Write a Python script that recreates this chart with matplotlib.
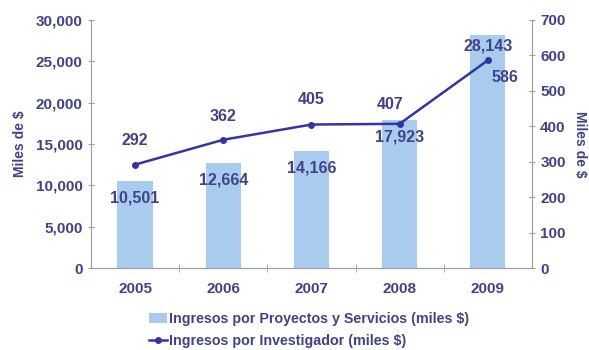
import matplotlib
matplotlib.use("Agg")
import matplotlib.pyplot as plt

years = ["2005", "2006", "2007", "2008", "2009"]
proyectos = [10501, 12664, 14166, 17923, 28143]       # miles $ (bars, left axis)
investigador = [292, 362, 405, 407, 586]              # miles $ (line, right axis)
bar_labels = ["10,501", "12,664", "14,166", "17,923", "28,143"]

TXT = "#42428c"
BAR = "#a9cbee"
LINE = "#3434a4"
GRID = "#a0a0a0"

plt.rcParams["font.family"] = ["Liberation Sans", "DejaVu Sans"]
plt.rcParams["font.weight"] = "bold"

fig = plt.figure(figsize=(5.89, 3.5), dpi=100)
ax = fig.add_axes([0.1545, 0.234, 0.7485, 0.709])
ax2 = ax.twinx()

x = list(range(len(years)))
bars = ax.bar(x, proyectos, width=0.4, color=BAR, zorder=1,
              label="Ingresos por Proyectos y Servicios (miles $)")
ln, = ax2.plot(x, investigador, "-o", color=LINE, lw=1.8, ms=4,
               label="Ingresos por Investigador (miles $)")

ax.set_xlim(-0.5, 4.5)
ax.set_ylim(0, 30000)
ax2.set_ylim(0, 700)
ax.set_yticks(range(0, 30001, 5000))
ax.set_yticklabels([f"{v:,}" for v in range(0, 30001, 5000)])
ax2.set_yticks(range(0, 701, 100))
ax.set_xticks(x)
ax.set_xticklabels(years)
ax.set_xticks([0.5, 1.5, 2.5, 3.5], minor=True)

for a in (ax, ax2):
    for s in a.spines.values():
        s.set_color(GRID)
    a.spines["top"].set_visible(False)
    a.tick_params(colors=GRID, labelcolor=TXT, labelsize=11, direction="inout", length=5)

ax.tick_params(axis="x", which="major", length=0, pad=10, labelsize=11)
ax.tick_params(axis="x", which="minor", direction="inout", length=6, color=GRID)
ax.set_ylabel("Miles de $", color=TXT, fontsize=10, fontweight="bold", labelpad=6)
ax2.set_ylabel("Miles de $", color=TXT, fontsize=10, fontweight="bold", rotation=270, labelpad=15)

# bar value labels (just inside the bar tops)
bar_offsets = [-12, -12, -12, -12, -8]
for i, (v, lab) in enumerate(zip(proyectos, bar_labels)):
    ax.annotate(lab, (i, v), xytext=(0, bar_offsets[i]), textcoords="offset points",
                ha="center", va="center", color=TXT, fontsize=11.5, fontweight="bold")

# line value labels
line_offsets = [(0, 17), (0, 17), (0, 18), (-7, 14), (12, -12)]
for i, v in enumerate(investigador):
    ax2.annotate(str(v), (i, v), xytext=line_offsets[i], textcoords="offset points",
                 ha="center", va="center", color=TXT, fontsize=11.5, fontweight="bold")

leg = fig.legend([bars, ln], [bars.get_label(), ln.get_label()],
                 loc="upper left", bbox_to_anchor=(0.243, 0.125), frameon=False,
                 fontsize=10.3, handlelength=1.3, handletextpad=0.1, labelspacing=0.55,
                 borderaxespad=0)
for t in leg.get_texts():
    t.set_color(TXT)

fig.savefig("out.png", dpi=100)
